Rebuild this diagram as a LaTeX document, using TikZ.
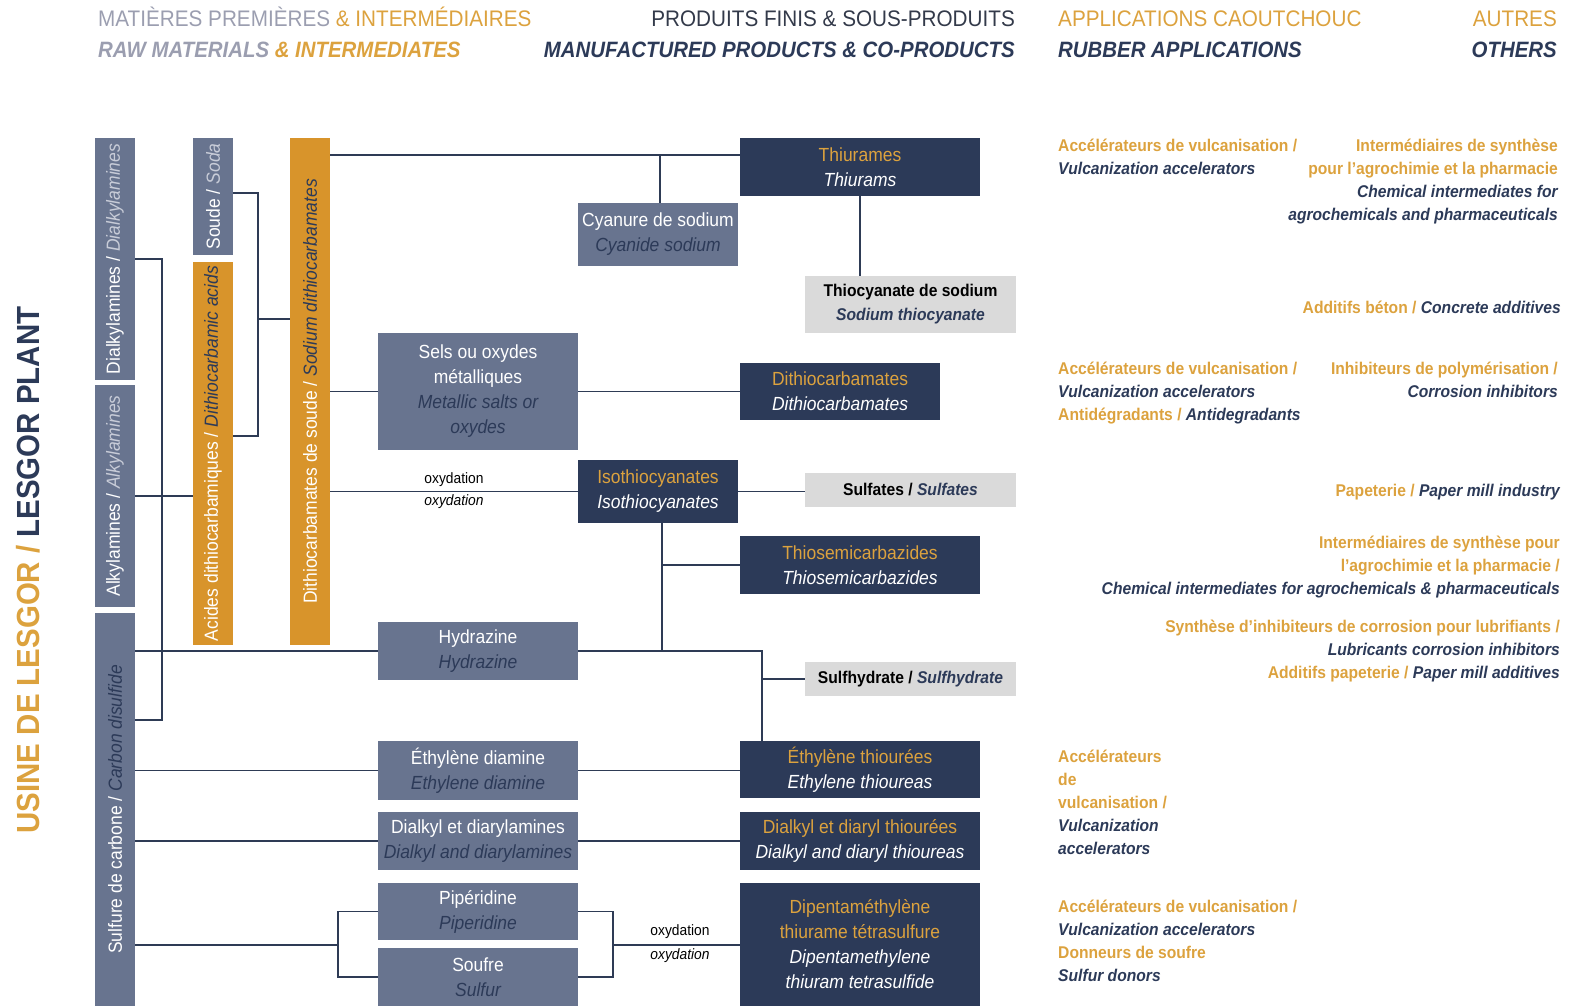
\documentclass[tikz,border=0pt]{standalone}
\usepackage{fontspec}
\setmainfont[FakeStretch=0.92]{Liberation Sans}
\usetikzlibrary{positioning}

\definecolor{rawgrey}{HTML}{68748F}
\definecolor{navy}{HTML}{2C3A58}
\definecolor{boxamber}{HTML}{D8942B}
\definecolor{txtamber}{HTML}{DCA23E}
\definecolor{pale}{HTML}{DADADA}
\definecolor{headgrey}{HTML}{9B9EB0}
\definecolor{headdark}{HTML}{333A4A}
\definecolor{linkblue}{HTML}{2E3B55}
\definecolor{softgrey}{HTML}{C8CCD8}

\newcommand{\frtxt}[1]{{\color{txtamber}#1}}
\newcommand{\entxt}[1]{{\itshape\color{navy}#1}}

\tikzset{
  link/.style={draw=linkblue, line width=1.8pt},
  rawbox/.style={fill=rawgrey, text=white, inner sep=0pt, align=center,
    font=\fontsize{19}{25}\selectfont},
  prodbox/.style={fill=navy, text=white, inner sep=0pt, align=center,
    font=\fontsize{19}{25}\selectfont},
  amberbox/.style={fill=boxamber, text=white, inner sep=0pt, align=center,
    font=\fontsize{19}{25}\selectfont},
  subbox/.style={fill=pale, text=black, inner sep=0pt, align=center,
    font=\bfseries\fontsize{17}{24}\selectfont},
  oxlabel/.style={inner sep=0pt, font=\fontsize{15}{20}\selectfont},
  usetext/.style={inner sep=0pt, text=txtamber, font=\bfseries\fontsize{17}{23}\selectfont},
  head/.style={inner sep=0pt, font=\fontsize{22.5}{26}\selectfont},
  headen/.style={inner sep=0pt, font=\bfseries\itshape\fontsize{22.2}{26}\selectfont}
}

\begin{document}
\begin{tikzpicture}[x=1pt,y=-1pt]
\useasboundingbox (0,0) rectangle (1573,1006);

% column headings
\node[head, anchor=base west, text=headgrey] (h1) at (98,27) {MATIÈRES PREMIÈRES \frtxt{\& INTERMÉDIAIRES}};
\node[headen, anchor=base west, text=headgrey] (h1b) at (98,58) {RAW MATERIALS \frtxt{\& INTERMEDIATES}};
\node[head, anchor=base east, text=headdark] (h2) at (1015,27) {PRODUITS FINIS \& SOUS-PRODUITS};
\node[headen, anchor=base east, text=navy] (h2b) at (1015,58) {MANUFACTURED PRODUCTS \& CO-PRODUCTS};
\node[head, anchor=base west, text=txtamber] (h3) at (1058,27) {APPLICATIONS CAOUTCHOUC};
\node[headen, anchor=base west, text=navy] (h3b) at (1058,58) {RUBBER APPLICATIONS};
\node[head, anchor=base east, text=txtamber] (h4) at (1557,27) {AUTRES};
\node[headen, anchor=base east, text=navy] (h4b) at (1557,58) {OTHERS};

\node[rotate=90, inner sep=0pt, font=\bfseries\fontsize{32}{32}\selectfont] (plant) at (28,570)
  {\frtxt{USINE DE LESGOR /} {\color{navy}LESGOR PLANT}};

% raw materials (rotated: .south is the right side, .north the left side)
\node[rawbox, rotate=90, minimum width=242pt, minimum height=40pt] (dialk) at (115,259)
  {Dialkylamines / {\itshape\color{softgrey}Dialkylamines}};
\node[rawbox, rotate=90, minimum width=222pt, minimum height=40pt] (alkyl) at (115,496)
  {Alkylamines / {\itshape\color{softgrey}Alkylamines}};
\node[rawbox, rotate=90, minimum width=393pt, minimum height=40pt] (cs2) at (115,809.5)
  {Sulfure de carbone / \entxt{Carbon disulfide}};
\node[rawbox, rotate=90, minimum width=117pt, minimum height=40pt] (soude) at (213,196.5)
  {Soude / {\itshape\color{softgrey}Soda}};
\node[amberbox, rotate=90, minimum width=383pt, minimum height=40pt] (acides) at (213,453.5)
  {Acides dithiocarbamiques / \entxt{Dithiocarbamic acids}};
\node[amberbox, rotate=90, minimum width=507pt, minimum height=40pt] (nadtc) at (310,391.5)
  {Dithiocarbamates de soude / \entxt{Sodium dithiocarbamates}};

% intermediates
\node[rawbox, minimum width=160pt, minimum height=63pt] (cyan) at (658,234.5)
  {Cyanure de sodium\\\entxt{Cyanide sodium}};
\node[rawbox, minimum width=200pt, minimum height=117pt] (sels) at (478,391.5)
  {Sels ou oxydes\\métalliques\\\entxt{Metallic salts or}\\\entxt{oxydes}};
\node[rawbox, minimum width=200pt, minimum height=58pt] (hydra) at (478,651)
  {Hydrazine\\\entxt{Hydrazine}};
\node[rawbox, minimum width=200pt, minimum height=59pt] (etda) at (478,770.5)
  {Éthylène diamine\\\entxt{Ethylene diamine}};
\node[rawbox, minimum width=200pt, minimum height=58pt] (dada) at (478,841)
  {Dialkyl et diarylamines\\\entxt{Dialkyl and diarylamines}};
\node[rawbox, minimum width=200pt, minimum height=57pt] (pip) at (478,911.5)
  {Pipéridine\\\entxt{Piperidine}};
\node[rawbox, minimum width=200pt, minimum height=58pt] (soufre) at (478,977)
  {Soufre\\\entxt{Sulfur}};

% products
\node[prodbox, minimum width=240pt, minimum height=58pt] (thiur) at (860,167)
  {\frtxt{Thiurames}\\\textit{Thiurams}};
\node[prodbox, minimum width=200pt, minimum height=57pt] (dtc) at (840,391.5)
  {\frtxt{Dithiocarbamates}\\\textit{Dithiocarbamates}};
\node[prodbox, minimum width=160pt, minimum height=63pt] (iso) at (658,491.5)
  {\frtxt{Isothiocyanates}\\\textit{Isothiocyanates}};
\node[prodbox, minimum width=240pt, minimum height=58pt] (semi) at (860,565)
  {\frtxt{Thiosemicarbazides}\\\textit{Thiosemicarbazides}};
\node[prodbox, minimum width=240pt, minimum height=57pt] (etu) at (860,769.5)
  {\frtxt{Éthylène thiourées}\\\textit{Ethylene thioureas}};
\node[prodbox, minimum width=240pt, minimum height=58pt] (datu) at (860,841)
  {\frtxt{Dialkyl et diaryl thiourées}\\\textit{Dialkyl and diaryl thioureas}};
\node[prodbox, minimum width=240pt, minimum height=123pt] (dptt) at (860,944.5)
  {\frtxt{Dipentaméthylène}\\\frtxt{thiurame tétrasulfure}\\\textit{Dipentamethylene}\\\textit{thiuram tetrasulfide}};

% co-products
\node[subbox, minimum width=211pt, minimum height=57pt] (thiocy) at (910.5,304.5)
  {Thiocyanate de sodium\\\entxt{Sodium thiocyanate}};
\node[subbox, minimum width=211pt, minimum height=34pt] (sulfa) at (910.5,490)
  {Sulfates / \entxt{Sulfates}};
\node[subbox, minimum width=211pt, minimum height=34pt] (sulfh) at (910.5,679)
  {Sulfhydrate / \entxt{Sulfhydrate}};

% links
\draw[link] (dialk.south) -| (162,720) -- (cs2.south |- 162,720);
\draw[link] (alkyl.south) -- (acides.north |- alkyl.south);
\draw[link] (cs2.south |- hydra.west) -- (hydra.west);
\draw[link] (cs2.south |- etda.west) -- (etda.west);
\draw[link] (cs2.south |- dada.west) -- (dada.west);
\coordinate (pipj) at (338,945);
\draw[link] (cs2.south |- pipj) -- (pipj);
\draw[link] (pip.west) -| (pipj) |- (soufre.west);
\coordinate (oxj) at (613,945);
\draw[link] (pip.east) -| (oxj) |- (soufre.east);
\draw[link] (oxj) -- (dptt.west |- oxj);
\node[oxlabel] (ox2a) at (680,932) {oxydation};
\node[oxlabel] (ox2b) at (680,956) {\itshape oxydation};

\coordinate (sj) at (258,193);
\draw[link] (soude.south |- sj) -- (sj) |- (acides.south |- 0,436);
\draw[link] (sj |- 0,319) -- (nadtc.north |- 0,319);

\coordinate (tj) at (660,155);
\draw[link] (nadtc.south |- tj) -- (thiur.west |- tj);
\draw[link] (tj) -- (tj |- cyan.north);
\draw[link] (thiur.south) -- (thiocy.north -| thiur.south);
\draw[link] (nadtc.south |- sels.west) -- (sels.west);
\draw[link] (sels.east) -- (dtc.west);
\draw[link] (nadtc.south |- iso.west) -- (iso.west);
\node[oxlabel] (ox1a) at (454,480) {oxydation};
\node[oxlabel] (ox1b) at (454,502) {\itshape oxydation};
\draw[link] (iso.east) -- (iso.east -| sulfa.west);
\coordinate (ij) at (662,651);
\draw[link] (ij |- iso.south) -- (ij);
\draw[link] (ij |- semi.west) -- (semi.west);
\coordinate (hj) at (762,651);
\draw[link] (hydra.east) -- (hj) -- (hj |- etu.north);
\draw[link] (hj |- sulfh.west) -- (sulfh.west);
\draw[link] (etda.east) -- (etda.east -| etu.west);
\draw[link] (dada.east) -- (datu.west);

% applications
\node[usetext, align=left, anchor=north west] (app1) at (1058,139)
  {Accélérateurs de vulcanisation /\\\entxt{Vulcanization accelerators}};
\node[usetext, align=right, anchor=north east] (oth1) at (1558,139)
  {Intermédiaires de synthèse\\pour l'agrochimie et la pharmacie\\\entxt{Chemical intermediates for}\\\entxt{agrochemicals and pharmaceuticals}};
\node[usetext, align=right, anchor=north east] (oth2) at (1561,301)
  {Additifs béton / \entxt{Concrete additives}};
\node[usetext, align=left, anchor=north west] (app2) at (1058,362)
  {Accélérateurs de vulcanisation /\\\entxt{Vulcanization accelerators}\\Antidégradants / \entxt{Antidegradants}};
\node[usetext, align=right, anchor=north east] (oth3) at (1558,362)
  {Inhibiteurs de polymérisation /\\\entxt{Corrosion inhibitors}};
\node[usetext, align=right, anchor=north east] (oth4) at (1560,484)
  {Papeterie / \entxt{Paper mill industry}};
\node[usetext, align=right, anchor=north east] (oth5) at (1560,536)
  {Intermédiaires de synthèse pour\\l'agrochimie et la pharmacie /\\\entxt{Chemical intermediates for agrochemicals \& pharmaceuticals}};
\node[usetext, align=right, anchor=north east] (oth6) at (1560,620)
  {Synthèse d'inhibiteurs de corrosion pour lubrifiants /\\\entxt{Lubricants corrosion inhibitors}\\Additifs papeterie / \entxt{Paper mill additives}};
\node[usetext, align=left, anchor=north west] (app3) at (1058,750)
  {Accélérateurs\\de\\vulcanisation /\\\entxt{Vulcanization}\\\entxt{accelerators}};
\node[usetext, align=left, anchor=north west] (app4) at (1058,900)
  {Accélérateurs de vulcanisation /\\\entxt{Vulcanization accelerators}\\Donneurs de soufre\\\entxt{Sulfur donors}};
\end{tikzpicture}
\end{document}
